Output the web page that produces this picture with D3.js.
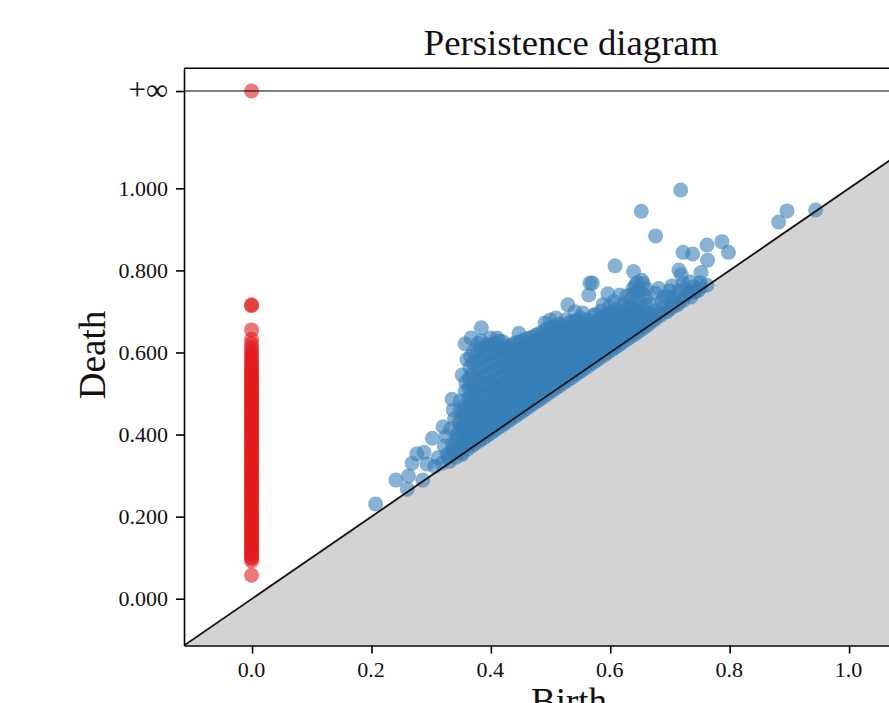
<!DOCTYPE html>
<html><head><meta charset="utf-8">
<script src="https://cdn.jsdelivr.net/npm/d3@7"></script>
<style>html,body{margin:0;padding:0;background:#fff;overflow:hidden}svg{display:block}
text{font-family:"Liberation Serif",serif;fill:#111}</style></head>
<body><svg id="c" width="889" height="703"></svg>
<script>
const titleText="Persistence diagram", xLabel="Birth", yLabel="Death", infLabel="+∞";
const xTicks=[0,0.2,0.4,0.6,0.8,1.0];
const yTicks=[0,0.2,0.4,0.6,0.8,1.0];
const infValue=1.237;
const xDomain=[-0.114,1.292], yDomain=[-0.114,1.2924];
const redDeaths=[0.057,0.092,0.098,0.101,0.107,0.111,0.114,0.119,0.124,0.127,0.133,0.136,0.141,0.146,0.149,0.153,0.158,0.162,0.167,0.171,0.174,0.179,0.183,0.188,0.191,0.196,0.201,0.204,0.209,0.213,0.218,0.221,0.226,0.231,0.234,0.239,0.243,0.248,0.252,0.256,0.261,0.264,0.269,0.273,0.278,0.282,0.286,0.291,0.294,0.299,0.303,0.308,0.312,0.316,0.321,0.324,0.329,0.333,0.338,0.342,0.347,0.351,0.354,0.359,0.363,0.368,0.372,0.376,0.381,0.384,0.389,0.393,0.398,0.402,0.406,0.411,0.414,0.419,0.423,0.428,0.432,0.436,0.441,0.444,0.449,0.453,0.458,0.462,0.467,0.471,0.474,0.479,0.483,0.488,0.492,0.496,0.501,0.504,0.509,0.513,0.518,0.522,0.526,0.531,0.535,0.539,0.544,0.549,0.553,0.558,0.563,0.569,0.574,0.579,0.586,0.592,0.598,0.604,0.612,0.621,0.632,0.655,0.714,0.716,1.237];
const blueOutliers=[[.207,.231],[.241,.289],[.260,.267],[.262,.299],[.286,.289],[.268,.330],[.293,.328],[.276,.353],[.288,.357],[.302,.391],[.320,.419],[.335,.486],[.337,.460],[.352,.545],[.360,.583],[.357,.621],[.384,.660],[.367,.635],[.399,.635],[.410,.635],[.447,.647],[.499,.679],[.491,.672],[.509,.684],[.529,.716],[.541,.699],[.554,.696],[.566,.769],[.564,.740],[.718,.996],[.652,.944],[.676,.884],[.896,.945],[.882,.918],[.944,.947],[.762,.862],[.787,.870],[.798,.844],[.763,.825],[.722,.844],[.738,.840],[.608,.811],[.639,.797],[.715,.801],[.719,.789],[.752,.795],[.570,.769],[.596,.743],[.616,.740],[.653,.776],[.642,.764],[.681,.756],[.703,.762],[.734,.772],[.762,.764],[.742,.748],[.711,.715],[.707,.736],[.680,.691],[.588,.716],[.575,.691],[.645,.770],[.655,.768],[.638,.755],[.660,.755],[.675,.745],[.690,.735],[.700,.750],[.715,.750],[.725,.755],[.740,.760],[.750,.770],[.735,.735]];
const blueDense=[
[.306,.322],[.312,.344],[.318,.330],[.322,.372],[.325,.396],[.327,.352],[.331,.335],[.333,.414],[.336,.378],[.338,.354],[.339,.438],
[.342,.345],[.344,.362],[.345,.388],[.346,.411],[.347,.432],[.348,.458],[.349,.482],[.351,.372],[.352,.352],[.353,.398],[.354,.421],[.355,.447],[.356,.471],[.357,.506],[.358,.528],
[.361,.365],[.362,.384],[.363,.408],[.364,.429],[.365,.452],[.366,.476],[.367,.498],[.368,.522],[.369,.548],[.370,.574],[.371,.603],
[.373,.378],[.374,.398],[.375,.419],[.376,.441],[.377,.463],[.378,.487],[.379,.511],[.380,.536],[.381,.561],[.382,.585],[.383,.612],[.384,.628],
[.386,.390],[.387,.409],[.388,.431],[.389,.454],[.390,.476],[.391,.499],[.392,.523],[.393,.546],[.394,.571],[.395,.594],[.396,.618],
[.398,.402],[.399,.421],[.400,.443],[.401,.465],[.402,.487],[.403,.509],[.404,.531],[.405,.556],[.406,.579],[.407,.601],[.408,.622],
[.410,.414],[.411,.433],[.412,.452],[.413,.475],[.414,.496],[.415,.519],[.416,.541],[.417,.564],[.418,.587],[.419,.609],[.420,.626],
[.423,.427],[.424,.446],[.425,.466],[.426,.488],[.427,.509],[.428,.531],[.429,.553],[.430,.574],[.431,.596],[.432,.617],
[.435,.439],[.436,.458],[.437,.478],[.438,.499],[.439,.521],[.440,.542],[.441,.563],[.442,.584],[.443,.605],[.444,.624],
[.447,.451],[.448,.469],[.449,.489],[.450,.510],[.451,.531],[.452,.552],[.453,.573],[.454,.594],[.455,.613],[.456,.631],
[.459,.463],[.460,.481],[.461,.501],[.462,.522],[.463,.543],[.464,.563],[.465,.583],[.466,.603],[.467,.622],[.468,.637],
[.471,.475],[.472,.493],[.473,.513],[.474,.533],[.475,.553],[.476,.574],[.477,.594],[.478,.613],[.479,.631],[.481,.646],
[.484,.488],[.485,.506],[.486,.525],[.487,.545],[.488,.565],[.489,.584],[.490,.603],[.491,.621],[.492,.639],[.494,.657],
[.496,.500],[.497,.518],[.498,.537],[.499,.556],[.500,.575],[.501,.594],[.502,.612],[.503,.631],[.504,.649],[.506,.664],
[.509,.513],[.510,.531],[.511,.549],[.512,.568],[.513,.587],[.514,.606],[.515,.624],[.516,.642],[.517,.658],
[.521,.525],[.522,.543],[.523,.561],[.524,.579],[.525,.597],[.526,.616],[.527,.634],[.528,.652],[.530,.672],
[.534,.538],[.535,.556],[.536,.574],[.537,.592],[.538,.609],[.539,.627],[.540,.645],[.541,.661],[.543,.678],
[.546,.550],[.547,.568],[.548,.585],[.549,.603],[.550,.621],[.551,.638],[.552,.655],[.554,.672],
[.558,.562],[.559,.579],[.560,.597],[.561,.614],[.562,.632],[.563,.649],[.565,.667],
[.571,.575],[.572,.592],[.573,.609],[.574,.626],[.575,.643],[.576,.660],[.578,.676],
[.583,.587],[.584,.604],[.585,.621],[.586,.638],[.587,.654],[.589,.671],[.591,.689],
[.596,.600],[.597,.616],[.598,.633],[.599,.650],[.600,.667],[.602,.684],[.604,.699],
[.608,.612],[.609,.628],[.610,.645],[.611,.662],[.612,.678],[.614,.694],
[.620,.624],[.621,.641],[.622,.658],[.623,.674],[.625,.691],[.627,.707],
[.633,.637],[.634,.653],[.635,.669],[.636,.686],[.638,.703],
[.646,.650],[.647,.666],[.648,.682],[.650,.698],[.647,.724],[.660,.734],
[.658,.662],[.659,.678],[.661,.696],[.664,.668],[.670,.676],[.672,.694],[.668,.716],[.684,.690],[.690,.712],[.698,.704],[.696,.735],[.715,.720],[.727,.740],[.742,.748],[.752,.760],[.722,.768]
];
const blueFill=[
[.330,.345],[.335,.362],[.340,.372],[.343,.398],[.350,.356],[.351,.414],[.352,.436],[.353,.461],[.358,.389],[.359,.412],[.360,.438],[.361,.462],[.362,.488],[.363,.512],[.364,.538],[.365,.563],[.366,.590],
[.368,.372],[.369,.391],[.370,.414],[.371,.436],[.372,.458],[.373,.481],[.374,.506],[.375,.530],[.376,.553],[.377,.579],[.378,.602],[.379,.622],
[.380,.384],[.381,.404],[.382,.426],[.383,.448],[.384,.470],[.385,.494],[.386,.517],[.387,.541],[.388,.566],[.389,.589],[.390,.611],
[.392,.396],[.393,.416],[.394,.438],[.395,.460],[.396,.482],[.397,.505],[.398,.527],[.399,.551],[.400,.574],[.401,.598],[.402,.620],
[.404,.408],[.405,.427],[.406,.448],[.407,.470],[.408,.492],[.409,.514],[.410,.537],[.411,.559],[.412,.582],[.413,.604],[.414,.628],
[.417,.421],[.418,.440],[.419,.460],[.420,.481],[.421,.503],[.422,.525],[.423,.547],[.424,.569],[.425,.592],[.426,.613],
[.429,.433],[.430,.452],[.431,.472],[.432,.493],[.433,.515],[.434,.536],[.435,.558],[.436,.579],[.437,.600],[.438,.621],
[.441,.445],[.442,.463],[.443,.483],[.444,.504],[.445,.526],[.446,.547],[.447,.568],[.448,.589],[.449,.609],[.450,.627],
[.453,.457],[.454,.475],[.455,.495],[.456,.516],[.457,.537],[.458,.558],[.459,.578],[.460,.598],[.461,.618],[.462,.634],
[.465,.469],[.466,.487],[.467,.507],[.468,.527],[.469,.548],[.470,.568],[.471,.588],[.472,.607],[.473,.626],[.475,.642],
[.478,.482],[.479,.500],[.480,.519],[.481,.539],[.482,.559],[.483,.579],[.484,.598],[.485,.617],[.486,.635],[.488,.651],
[.490,.494],[.491,.512],[.492,.531],[.493,.551],[.494,.570],[.495,.589],[.496,.608],[.497,.626],[.498,.644],[.500,.660],
[.503,.507],[.504,.525],[.505,.543],[.506,.562],[.507,.581],[.508,.600],[.509,.618],[.510,.637],[.511,.654],[.513,.668],
[.515,.519],[.516,.537],[.517,.555],[.518,.573],[.519,.592],[.520,.610],[.521,.629],[.522,.647],[.523,.664],[.526,.680],
[.528,.532],[.529,.550],[.530,.567],[.531,.585],[.532,.603],[.533,.621],[.534,.640],[.535,.657],[.537,.674],
[.540,.544],[.541,.562],[.542,.579],[.543,.597],[.544,.615],[.545,.632],[.546,.650],[.547,.667],[.550,.684],
[.552,.556],[.553,.573],[.554,.591],[.555,.608],[.556,.626],[.557,.643],[.558,.660],[.560,.680],
[.565,.569],[.566,.586],[.567,.603],[.568,.620],[.569,.637],[.570,.654],[.571,.671],[.573,.692],
[.577,.581],[.578,.598],[.579,.615],[.580,.632],[.581,.648],[.582,.665],[.584,.682],[.585,.701],
[.590,.594],[.591,.610],[.592,.627],[.593,.644],[.594,.661],[.595,.678],[.597,.695],[.599,.712],
[.602,.606],[.603,.622],[.604,.639],[.605,.656],[.606,.672],[.608,.689],[.611,.706],[.606,.724],
[.614,.618],[.615,.634],[.616,.651],[.617,.668],[.618,.684],[.620,.701],[.623,.718],[.628,.738],
[.627,.631],[.628,.647],[.629,.663],[.630,.680],[.631,.697],[.634,.714],[.636,.731],[.640,.745],[.648,.752],[.655,.741],
[.640,.644],[.641,.660],[.642,.676],[.643,.692],[.644,.710],[.652,.656],[.653,.672],[.654,.688],[.655,.706],[.660,.716],
[.667,.685],[.675,.681],[.678,.702],[.686,.724],[.694,.699],[.702,.709],[.708,.728],[.722,.727],[.733,.745],[.748,.752]
];
const bluePoints=blueOutliers.concat(blueDense,blueFill);

const x=d3.scaleLinear().domain(xDomain).range([184,1023.4]);
const y=d3.scaleLinear().domain(yDomain).range([645.5,68.3]);
const svg=d3.select("#c");
svg.append("defs").append("clipPath").attr("id","plot").append("rect")
  .attr("x",184).attr("y",68.3).attr("width",840).attr("height",577.2);
const g=svg.append("g").attr("clip-path","url(#plot)");
g.append("path").datum(xDomain)
  .attr("d",d=>d3.area().x(v=>x(v)).y0(y(yDomain[0])).y1(v=>y(v))(d))
  .attr("fill","#d3d3d3");
g.selectAll("circle.blue").data(bluePoints).join("circle").attr("class","blue")
  .attr("cx",d=>x(d[0])).attr("cy",d=>y(d[1])).attr("r",7.5)
  .attr("fill","#377eb8").attr("fill-opacity",0.6);
g.selectAll("circle.red").data(redDeaths).join("circle").attr("class","red")
  .attr("cx",x(0)-0.5).attr("cy",d=>y(d)).attr("r",7.5)
  .attr("fill","#e41a1c").attr("fill-opacity",0.6);
g.append("line").attr("x1",x(xDomain[0])).attr("x2",x(xDomain[1]))
  .attr("y1",y(infValue)).attr("y2",y(infValue))
  .attr("stroke","#000").attr("stroke-opacity",0.5).attr("stroke-width",2);
g.append("line").attr("x1",x(xDomain[0])).attr("y1",y(xDomain[0]))
  .attr("x2",x(xDomain[1])).attr("y2",y(xDomain[1]))
  .attr("stroke","#111").attr("stroke-width",1.8);

const xa=svg.append("g").attr("transform",`translate(0,${y(yDomain[0])})`)
  .call(d3.axisBottom(x).tickValues(xTicks).tickFormat(d3.format(".1f")).tickSize(8).tickSizeOuter(0));
const ya=svg.append("g").attr("transform",`translate(${x(xDomain[0])},0)`)
  .call(d3.axisLeft(y).tickValues(yTicks.concat([infValue])).tickFormat(d=>d===infValue?infLabel:d3.format(".3f")(d)).tickSize(8).tickSizeOuter(0));
[xa,ya].forEach(a=>{a.selectAll("line,path").attr("stroke","#000").attr("stroke-width",1.6);
  a.selectAll("text").attr("font-size",22).attr("fill","#222").attr("stroke","none");});
xa.selectAll("text").attr("dy",null).attr("y",31).attr("x",-1).attr("dominant-baseline","auto");
ya.selectAll("text").attr("x",-16);
ya.selectAll("text").filter(d=>d===infValue).attr("font-size",31).attr("dy","0.27em").attr("fill","#555");
svg.append("line").attr("x1",x(xDomain[0])).attr("x2",x(xDomain[1])).attr("y1",y(yDomain[1])).attr("y2",y(yDomain[1])).attr("stroke","#000").attr("stroke-width",1.6);
svg.append("text").attr("x",571).attr("y",55).attr("text-anchor","middle").attr("font-size",36.7).text(titleText);
svg.append("text").attr("x",569).attr("y",714).attr("text-anchor","middle").attr("font-size",37).text(xLabel);
svg.append("text").attr("transform","translate(105,355) rotate(-90)").attr("text-anchor","middle").attr("font-size",37).text(yLabel);
</script></body></html>
